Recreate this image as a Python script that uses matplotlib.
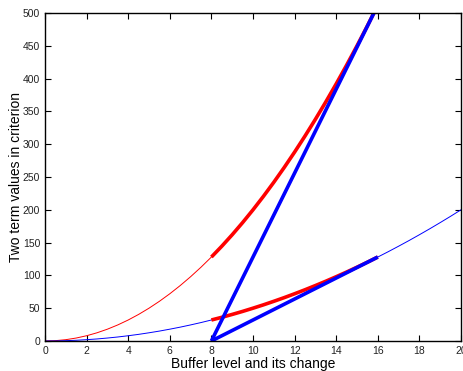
import matplotlib.pyplot as plt

# values (buffer level in steps of 0.5)
x = [0, 0.5, 1, 1.5, 2, 2.5, 3, 3.5, 4, 4.5, 5, 5.5, 6, 6.5, 7, 7.5, 8, 8.5, 9, 9.5, 10,
     10.5, 11, 11.5, 12, 12.5, 13, 13.5, 14, 14.5, 15, 15.5, 16, 16.5, 17, 17.5, 18, 18.5, 19, 19.5, 20]
red_curve = [0, 0.5, 2, 4.5, 8, 12.5, 18, 24.5, 32, 40.5, 50, 60.5, 72, 84.5, 98, 112.5, 128,
             144.5, 162, 180.5, 200, 220.5, 242, 264.5, 288, 312.5, 338, 364.5, 392, 420.5, 450,
             480.5, 512, 544.5, 578, 612.5, 648, 684.5, 722, 760.5, 800]
blue_curve = [0, 0.1, 0.5, 1.1, 2, 3.1, 4.5, 6.1, 8, 10.1, 12.5, 15.1, 18, 21.1, 24.5, 28.1, 32,
              36.1, 40.5, 45.1, 50, 55.1, 60.5, 66.1, 72, 78.1, 84.5, 91.1, 98, 105.1, 112.5,
              120.1, 128, 136.1, 144.5, 153.1, 162, 171.1, 180.5, 190.1, 200]

# thick segments between buffer level 8 and 16
seg_x = x[16:33]
seg_upper = red_curve[16:33]
seg_lower = blue_curve[16:33]
chord_x = [8, 16]
chord_lower = [0, 128]
chord_upper = [0, 512]

plt.rcParams['font.family'] = ['Liberation Sans', 'DejaVu Sans']

fig = plt.figure(figsize=(4.63, 3.71), dpi=100)
ax = fig.add_axes([0.0972, 0.0809, 0.8985, 0.884])

ax.plot(x, red_curve, color='red', lw=0.7)
ax.plot(x, blue_curve, color='blue', lw=0.7)
ax.plot(seg_x, seg_upper, color='red', lw=2.6, solid_capstyle='butt')
ax.plot(seg_x, seg_lower, color='red', lw=2.6, solid_capstyle='butt')
ax.plot(chord_x, chord_upper, color='blue', lw=2.6, solid_capstyle='butt')
ax.plot(chord_x, chord_lower, color='blue', lw=2.6, solid_capstyle='butt')

ax.set_xlim(0, 20)
ax.set_ylim(0, 500)
ax.set_xticks(range(0, 21, 2))
ax.set_yticks(range(0, 501, 50))
ax.tick_params(direction='in', top=True, right=True, labelsize=7.5, length=4, width=0.8,
               labelcolor='#222222')
for s in ax.spines.values():
    s.set_linewidth(1.0)
ax.set_xlabel('Buffer level and its change', fontsize=10, labelpad=1)
ax.set_ylabel('Two term values in criterion', fontsize=10, labelpad=0)

fig.savefig('out.png', dpi=100)
